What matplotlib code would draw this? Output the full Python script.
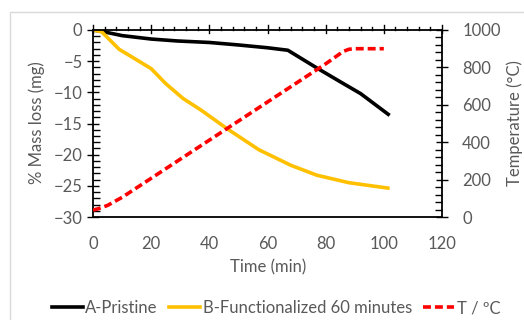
import matplotlib
matplotlib.use("Agg")
import matplotlib.pyplot as plt
from matplotlib.ticker import MultipleLocator
from matplotlib.lines import Line2D
from matplotlib.patches import Rectangle

plt.rcParams['font.family'] = ['Lato', 'DejaVu Sans']

# Data
t_a = [0, 3.5, 10, 20, 29, 40, 50, 60, 67, 77, 85, 92, 102]
mass_a = [0, -0.27, -0.9, -1.45, -1.76, -2.0, -2.4, -2.85, -3.25, -6.1, -8.3, -10.2, -13.7]

t_b = [0, 3, 6, 9, 14, 20, 25, 31, 37, 46, 57, 68, 77, 88, 102]
mass_b = [0, -0.3, -1.7, -3.1, -4.5, -6.2, -8.6, -11.0, -12.8, -15.8, -19.2, -21.7, -23.3, -24.5, -25.4]

t_t = [0, 2, 5, 10, 20, 30, 40, 50, 60, 70, 80, 86, 88, 90, 100]
temp = [37, 45, 62, 105, 207, 309, 411, 513, 615, 717, 819, 885, 897, 900, 900]

labels = ["A-Pristine", "B-Functionalized 60 minutes", "T / ºC"]

grey = "#595959"
FS = 12
fig = plt.figure(figsize=(5.24, 3.2), dpi=100)
W, H = 524, 320
x0, x1, y0, y1 = 93, 442, 30, 217
ax = fig.add_axes([x0 / W, 1 - y1 / H, (x1 - x0) / W, (y1 - y0) / H])
ax2 = ax.twinx()

ax.plot(t_a, mass_a, color="black", lw=2.6, solid_capstyle="butt", zorder=3)
ax.plot(t_b, mass_b, color="#FFC000", lw=2.6, solid_capstyle="butt", zorder=3)
ax2.plot(t_t, temp, color="#FF0000", lw=2.6, dashes=(2.2, 1.1), zorder=3)

ax.set_xlim(0, 120)
ax.set_ylim(-30, 0)
ax2.set_ylim(0, 1000)

for a in (ax, ax2):
    for s in a.spines.values():
        s.set_visible(False)

ax.axhline(0, color="black", lw=1.3, clip_on=False, zorder=4)
ax.axhline(-30, color="black", lw=1.3, clip_on=False, zorder=4)
ax.axvline(0, color="black", lw=1.3, clip_on=False, zorder=4)
ax.axvline(120, color="black", lw=1.3, clip_on=False, zorder=4)

# ticks drawn on the top axis line (y = 0)
ax.set_xticks([0, 20, 40, 60, 80, 100, 120])
ax.tick_params(axis='x', length=0, pad=14, labelsize=FS, labelcolor=grey)
for t in range(0, 121, 4):
    if t % 20 == 0:
        ax.plot([t, t], [-0.5, 0.75], color="black", lw=1.0, clip_on=False, zorder=4)
    else:
        ax.plot([t, t], [0, 0.55], color="black", lw=1.0, clip_on=False, zorder=4)

ax.yaxis.set_major_locator(MultipleLocator(5))
ax.yaxis.set_minor_locator(MultipleLocator(1))
ax.tick_params(axis='y', which='major', direction='inout', length=9, width=1.0,
               labelsize=FS, labelcolor=grey, pad=3)
ax.tick_params(axis='y', which='minor', direction='in', length=5, width=1.0)

ax2.yaxis.set_major_locator(MultipleLocator(200))
ax2.yaxis.set_minor_locator(MultipleLocator(40))
ax2.tick_params(axis='y', which='major', direction='inout', length=9, width=1.0,
                labelsize=FS, labelcolor=grey, pad=10)
ax2.tick_params(axis='y', which='minor', direction='in', length=5, width=1.0)

fig.text(268 / W, 1 - 267 / H, "Time (min)", fontsize=FS, color=grey, ha="center", va="center")
fig.text(37 / W, 1 - 123 / H, "% Mass loss (mg)", fontsize=FS, color=grey, ha="center", va="center",
         rotation=90)
fig.text(515 / W, 1 - 123 / H, "Temperature (°C)", fontsize=FS, color=grey, ha="center", va="center",
         rotation=90)

# chart border
fig.patches.append(Rectangle((10 / W, -0.1), 1.2, 1 - 12 / H + 0.1, transform=fig.transFigure,
                             fill=False, edgecolor="#D9D9D9", lw=1.0))

handles = [Line2D([], [], color="black", lw=2.6),
           Line2D([], [], color="#FFC000", lw=2.6),
           Line2D([], [], color="#FF0000", lw=2.6, dashes=(2.2, 1.1))]
fig.legend(handles, labels, loc="center", bbox_to_anchor=(276 / W, 1 - 308 / H), ncol=3,
           frameon=False, fontsize=FS, labelcolor=grey, handlelength=1.85,
           handletextpad=0.15, columnspacing=0.7, borderpad=0, borderaxespad=0)

fig.savefig("out.png", dpi=100)
